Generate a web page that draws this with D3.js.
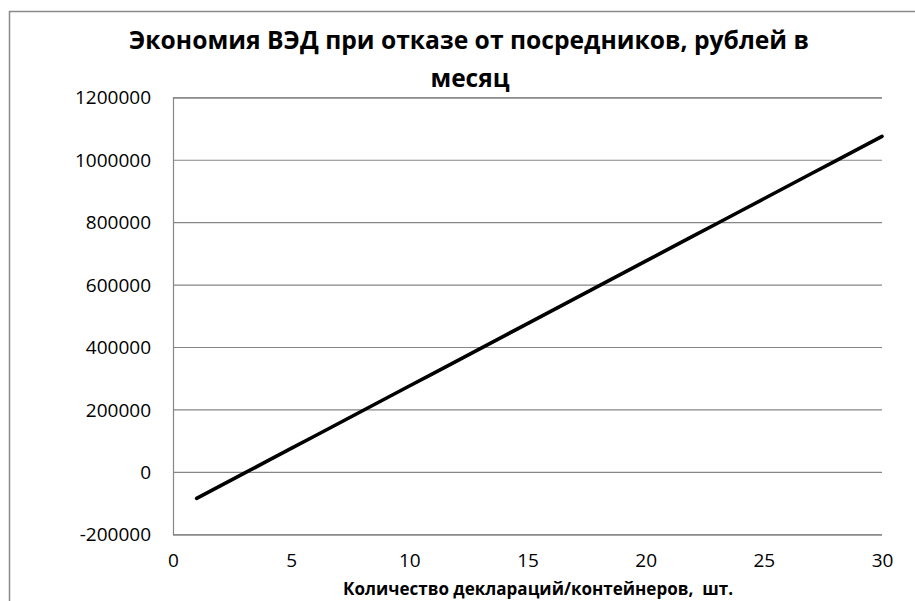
<!DOCTYPE html>
<html>
<head>
<meta charset="utf-8">
<script src="https://cdn.jsdelivr.net/npm/d3@7"></script>
<style>
  html, body { margin: 0; padding: 0; background: #fff; }
  svg { display: block; }
  text { font-family: "Open Sans", "Noto Sans", sans-serif; fill: #000; }
</style>
</head>
<body>
<svg id="chart" width="915" height="601"></svg>
<script>
// Number of declarations / containers per month
const counts = [1, 2, 3, 4, 5, 6, 7, 8, 9, 10, 11, 12, 13, 14, 15,
                16, 17, 18, 19, 20, 21, 22, 23, 24, 25, 26, 27, 28, 29, 30];
// Monthly savings, roubles
const savings = [-85000, -45000, -5000, 35000, 75000, 115000, 155000, 195000, 235000, 275000,
                 315000, 355000, 395000, 435000, 475000, 515000, 555000, 595000, 635000, 675000,
                 715000, 755000, 795000, 835000, 875000, 915000, 955000, 995000, 1035000, 1075000];
const yTicks = [-200000, 0, 200000, 400000, 600000, 800000, 1000000, 1200000];
const xTicks = [0, 5, 10, 15, 20, 25, 30];
const titleLines = ["Экономия ВЭД при отказе от посредников, рублей в", "месяц"];
const xTitle = "Количество деклараций/контейнеров,  шт.";

const svg = d3.select("#chart");
const W = 915, H = 601;
const plot = { left: 173, right: 882, top: 97.3, bottom: 534.3 };

svg.append("rect").attr("width", W).attr("height", H).attr("fill", "#fff");

// chart area frame (only top and left edges fall inside the page)
svg.append("path")
  .attr("d", `M9.5,${H} V11.5 H${W}`)
  .attr("fill", "none").attr("stroke", "#8a8a8a").attr("stroke-width", 1.5);

const x = d3.scaleLinear().domain([0, 30]).range([plot.left, plot.right]);
const y = d3.scaleLinear().domain([-200000, 1200000]).range([plot.bottom, plot.top]);

// horizontal gridlines with value labels (plain hyphen for negatives)
const yAxis = d3.axisLeft(y).tickValues(yTicks).tickSize(-(plot.right - plot.left))
  .tickPadding(22).tickFormat(d => String(d));
const gy = svg.append("g").attr("transform", `translate(${plot.left},0)`).call(yAxis);
gy.select(".domain").attr("stroke", "#868686").attr("stroke-width", 1.2);
gy.selectAll(".tick line").attr("stroke", "#868686").attr("stroke-width", 1.2);
gy.selectAll(".tick text").attr("font-size", 19).attr("fill", "#000")
  .attr("font-family", "'Open Sans', sans-serif").attr("dy", "0.35em");

// x axis labels (no tick marks)
const xAxis = d3.axisBottom(x).tickValues(xTicks).tickSize(0).tickPadding(0);
const gx = svg.append("g").attr("transform", `translate(0,${plot.bottom})`).call(xAxis);
gx.select(".domain").remove();
gx.selectAll(".tick text").attr("font-size", 19).attr("fill", "#000")
  .attr("font-family", "'Open Sans', sans-serif").attr("y", 33).attr("dy", 0);

// data line
const line = d3.line().x((d, i) => x(counts[i])).y(d => y(d));
svg.append("path")
  .datum(savings)
  .attr("d", line)
  .attr("fill", "none")
  .attr("stroke", "#000")
  .attr("stroke-width", 3.6)
  .attr("stroke-linecap", "round")
  .attr("stroke-linejoin", "round");

// title
svg.append("text").attr("x", 469).attr("y", 48.5)
  .attr("text-anchor", "middle").attr("font-size", 25).attr("font-weight", "bold")
  .attr("textLength", 680).attr("lengthAdjust", "spacingAndGlyphs")
  .text(titleLines[0]);
svg.append("text").attr("x", 470).attr("y", 86.5)
  .attr("text-anchor", "middle").attr("font-size", 25).attr("font-weight", "bold")
  .attr("textLength", 79).attr("lengthAdjust", "spacingAndGlyphs")
  .text(titleLines[1]);

// x axis title
svg.append("text").attr("x", 538).attr("y", 595)
  .attr("text-anchor", "middle").attr("font-size", 18).attr("font-weight", "bold")
  .attr("textLength", 390).attr("lengthAdjust", "spacingAndGlyphs")
  .attr("xml:space", "preserve")
  .text(xTitle);
</script>
</body>
</html>
